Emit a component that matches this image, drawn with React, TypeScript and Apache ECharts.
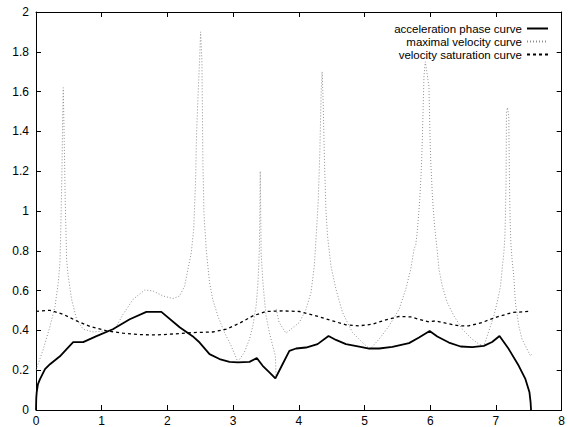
import React, { useEffect, useRef } from "react";
import * as echarts from "echarts";

const seriesNames = ["acceleration phase curve", "maximal velocity curve", "velocity saturation curve"];

const accX = [0, 0.004, 0.011, 0.03, 0.061, 0.137, 0.213, 0.364, 0.466, 0.566, 0.718, 0.921, 1.169, 1.427, 1.68, 1.908, 2.186, 2.383, 2.49, 2.641, 2.793, 2.945, 3.071, 3.249, 3.36, 3.45, 3.552, 3.643, 3.754, 3.856, 3.958, 4.109, 4.285, 4.452, 4.565, 4.717, 4.918, 5.07, 5.222, 5.424, 5.677, 5.829, 5.991, 6.107, 6.284, 6.462, 6.638, 6.816, 6.942, 7.054, 7.195, 7.347, 7.449, 7.51, 7.527, 7.534];
const accY = [0, 0.06, 0.09, 0.13, 0.155, 0.205, 0.23, 0.27, 0.306, 0.341, 0.341, 0.371, 0.406, 0.456, 0.493, 0.493, 0.416, 0.371, 0.339, 0.281, 0.256, 0.242, 0.239, 0.242, 0.261, 0.222, 0.189, 0.159, 0.231, 0.297, 0.309, 0.314, 0.331, 0.372, 0.352, 0.331, 0.319, 0.309, 0.309, 0.317, 0.336, 0.364, 0.397, 0.369, 0.339, 0.319, 0.316, 0.322, 0.342, 0.372, 0.306, 0.222, 0.155, 0.089, 0.04, 0];

const maxX = [0, 0.111, 0.213, 0.289, 0.339, 0.364, 0.38, 0.395, 0.405, 0.415, 0.43, 0.445, 0.466, 0.49, 0.542, 0.617, 0.718, 0.87, 1.073, 1.199, 1.326, 1.477, 1.655, 1.781, 1.933, 2.085, 2.186, 2.262, 2.312, 2.363, 2.4, 2.43, 2.44, 2.46, 2.49, 2.505, 2.525, 2.535, 2.54, 2.55, 2.555, 2.566, 2.58, 2.59, 2.616, 2.641, 2.69, 2.767, 2.869, 2.97, 3.071, 3.17, 3.249, 3.3, 3.35, 3.375, 3.39, 3.4, 3.407, 3.413, 3.42, 3.426, 3.45, 3.476, 3.502, 3.552, 3.603, 3.643, 3.654, 3.655, 3.656, 3.7, 3.805, 4.008, 4.109, 4.185, 4.235, 4.261, 4.285, 4.296, 4.32, 4.34, 4.355, 4.37, 4.39, 4.413, 4.437, 4.489, 4.565, 4.665, 4.817, 4.968, 5.081, 5.222, 5.374, 5.526, 5.627, 5.703, 5.753, 5.78, 5.8, 5.818, 5.84, 5.86, 5.87, 5.88, 5.89, 5.905, 5.925, 5.98, 5.991, 6.0, 6.01, 6.022, 6.031, 6.042, 6.052, 6.062, 6.072, 6.083, 6.092, 6.102, 6.133, 6.183, 6.259, 6.36, 6.487, 6.638, 6.74, 6.816, 6.842, 6.918, 6.968, 7.018, 7.07, 7.094, 7.12, 7.135, 7.145, 7.154, 7.16, 7.175, 7.195, 7.206, 7.215, 7.226, 7.245, 7.271, 7.296, 7.347, 7.397, 7.473, 7.525, 7.545];
const maxY = [0.2, 0.306, 0.42, 0.52, 0.64, 0.74, 0.95, 1.2, 1.45, 1.62, 1.35, 1.05, 0.757, 0.673, 0.556, 0.456, 0.406, 0.392, 0.398, 0.406, 0.481, 0.556, 0.603, 0.598, 0.573, 0.56, 0.573, 0.623, 0.707, 0.79, 0.91, 1.16, 1.35, 1.53, 1.76, 1.9, 1.754, 1.43, 1.238, 1.1, 1.0, 0.93, 0.866, 0.807, 0.723, 0.64, 0.556, 0.473, 0.389, 0.322, 0.242, 0.289, 0.356, 0.423, 0.523, 0.623, 0.723, 0.824, 1.0, 1.2, 1.0, 0.79, 0.657, 0.556, 0.473, 0.389, 0.322, 0.272, 0.164, null, 0.506, 0.44, 0.386, 0.44, 0.506, 0.59, 0.723, 0.857, 0.99, 1.06, 1.3, 1.6, 1.7, 1.55, 1.25, 1.0, 0.874, 0.723, 0.607, 0.49, 0.389, 0.339, 0.306, 0.356, 0.423, 0.506, 0.607, 0.707, 0.807, 0.832, 0.89, 0.96, 1.058, 1.18, 1.262, 1.362, 1.497, 1.68, 1.75, 1.626, 1.457, 1.33, 1.23, 1.153, 1.086, 1.03, 0.986, 0.94, 0.906, 0.87, 0.844, 0.815, 0.707, 0.623, 0.54, 0.473, 0.406, 0.356, 0.331, 0.322, 0.347, 0.423, 0.473, 0.54, 0.623, 0.707, 0.79, 0.865, 0.98, 1.158, 1.49, 1.52, 1.475, 1.14, 0.96, 0.844, 0.757, 0.673, 0.54, 0.423, 0.356, 0.306, 0.272, 0.28];

const satX = [0, 0.213, 0.415, 0.617, 0.82, 1.073, 1.326, 1.58, 1.832, 2.085, 2.39, 2.69, 2.895, 3.097, 3.3, 3.5, 3.754, 4.008, 4.26, 4.513, 4.717, 4.918, 5.12, 5.324, 5.526, 5.7, 5.829, 5.98, 6.083, 6.235, 6.436, 6.588, 6.79, 6.994, 7.245, 7.525];
const satY = [0.496, 0.501, 0.481, 0.448, 0.42, 0.398, 0.386, 0.379, 0.377, 0.382, 0.389, 0.392, 0.406, 0.436, 0.473, 0.495, 0.498, 0.495, 0.473, 0.448, 0.428, 0.423, 0.431, 0.453, 0.47, 0.468, 0.456, 0.443, 0.448, 0.436, 0.423, 0.423, 0.44, 0.465, 0.49, 0.496];

const xTicks = { min: 0, max: 8, interval: 1 };
const yTicks = { min: 0, max: 2, interval: 0.2 };

const zip = (xs: number[], ys: (number | null)[]) => xs.map((x, i) => [x, ys[i]]);

const FONT = "Liberation Sans";

export default function App() {
  const ref = useRef<HTMLDivElement>(null);
  useEffect(() => {
    if (!ref.current) return;
    const chart = echarts.init(ref.current, null, { renderer: "svg" });
    const axisCommon = {
      type: "value" as const,
      splitLine: { show: false },
      axisLine: { show: true, onZero: false, lineStyle: { color: "#000", width: 1 } },
      axisTick: { show: true, inside: true, length: 5, lineStyle: { color: "#000", width: 1 } },
    };
    chart.setOption({
      animation: false,
      backgroundColor: "#fff",
      grid: { left: 36, right: 5, top: 12, bottom: 16 },
      legend: {
        orient: "vertical",
        align: "right",
        right: 19,
        top: 22,
        padding: 0,
        itemGap: 0,
        itemWidth: 21,
        itemHeight: 13,
        selectedMode: false,
        itemStyle: { opacity: 0 },
        textStyle: { fontFamily: FONT, fontSize: 11.5, color: "#000", lineHeight: 13 },
        data: seriesNames,
      },
      xAxis: [
        {
          ...axisCommon,
          position: "bottom",
          ...xTicks,
          axisLabel: { fontFamily: FONT, fontSize: 12, color: "#000", margin: 5 },
        },
        {
          ...axisCommon,
          position: "top",
          ...xTicks,
          axisLabel: { show: false },
        },
      ],
      yAxis: [
        {
          ...axisCommon,
          position: "left",
          ...yTicks,
          axisLabel: { fontFamily: FONT, fontSize: 12, color: "#000", margin: 7 },
        },
        {
          ...axisCommon,
          position: "right",
          ...yTicks,
          axisLabel: { show: false },
        },
      ],
      series: [
        {
          name: seriesNames[0],
          type: "line",
          data: zip(accX, accY),
          symbol: "none",
          showSymbol: false,
          lineStyle: { color: "#000", width: 1.8 },
          itemStyle: { color: "#000" },
          z: 5,
        },
        {
          name: seriesNames[1],
          type: "line",
          data: zip(maxX, maxY),
          symbol: "none",
          showSymbol: false,
          connectNulls: false,
          lineStyle: { color: "#8f8f8f", width: 1, type: [1, 2] },
          itemStyle: { color: "#8f8f8f" },
          z: 3,
        },
        {
          name: seriesNames[2],
          type: "line",
          data: zip(satX, satY),
          symbol: "none",
          showSymbol: false,
          lineStyle: { color: "#000", width: 1.3, type: [3, 3] },
          itemStyle: { color: "#000" },
          z: 4,
        },
      ],
    });
    return () => chart.dispose();
  }, []);
  return (
    <div
      ref={ref}
      style={{ position: "fixed", left: 0, top: 0, width: 568, height: 427, background: "#fff" }}
    />
  );
}
